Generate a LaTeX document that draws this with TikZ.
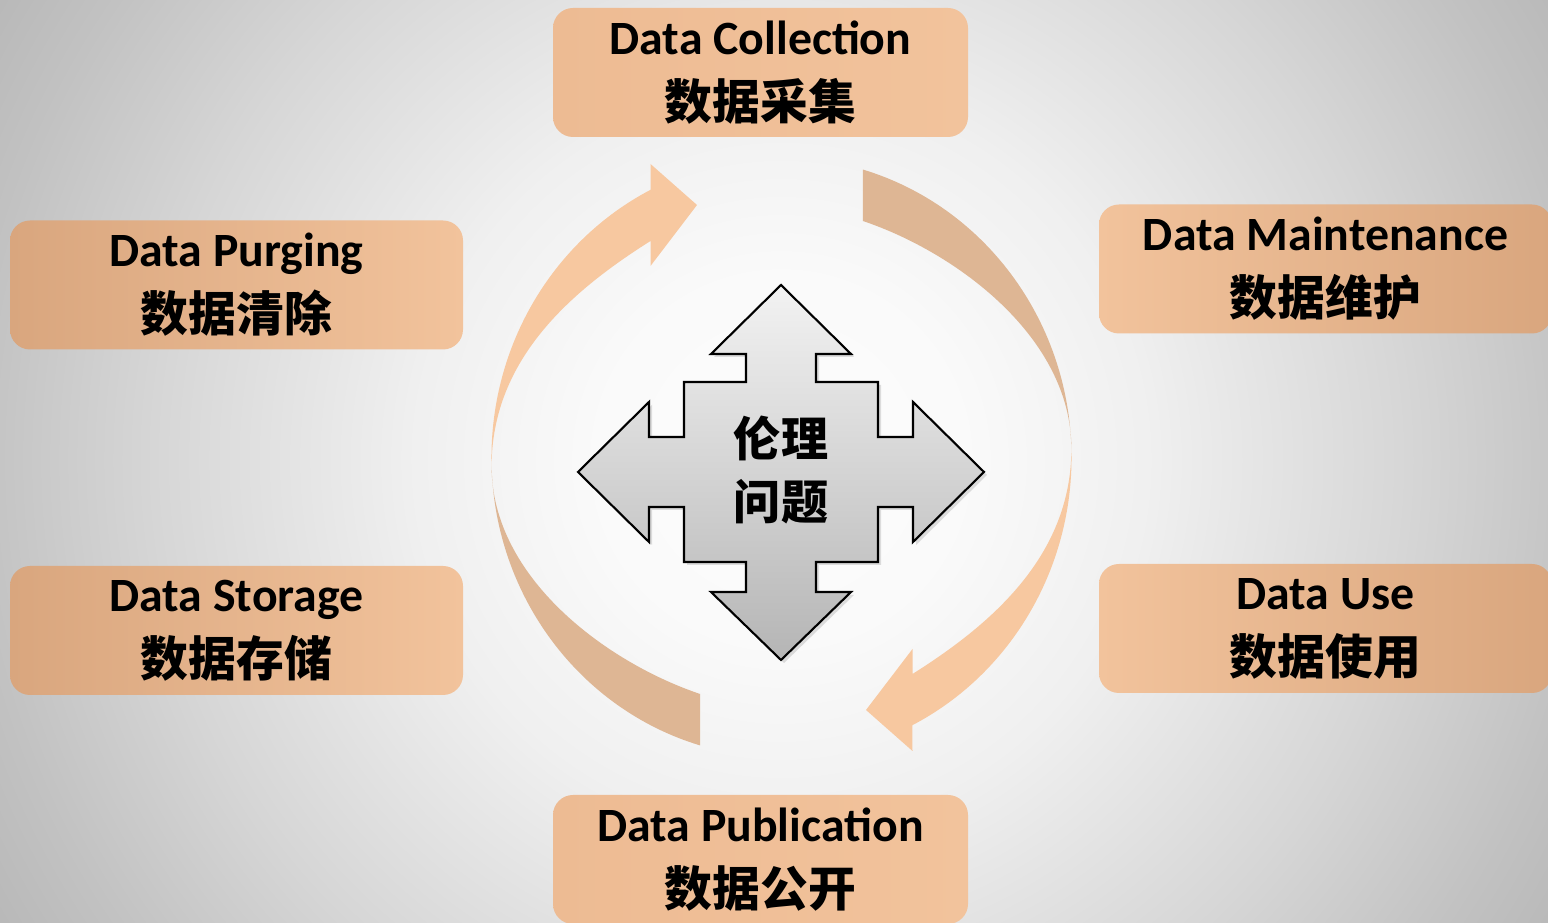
\documentclass[tikz,border=0pt]{standalone}
\usepackage{fontspec}
\setmainfont{Carlito}
\newfontfamily\cjk{Noto Sans CJK SC}
\usetikzlibrary{calc, shadows}

\definecolor{peach}{HTML}{F7C8A0}
\definecolor{arrowtan}{HTML}{DEB694}
\definecolor{boxlight}{HTML}{F2C39C}
\definecolor{boxdark}{HTML}{D9A67E}
\definecolor{boxmid}{HTML}{EDBB93}
\pgfdeclareradialshading{bgglow}{\pgfpoint{0bp}{0bp}}{color(0bp)=(white!99!black); color(5bp)=(white!98!black); color(10bp)=(white!94!black); color(17bp)=(white!84!black); color(22bp)=(white!76!black); color(25bp)=(white!72!black); color(50bp)=(white!72!black)}

\tikzset{
  stage/.style={rounded corners=2mm, minimum height=12.9mm, inner sep=0pt, align=center,
    font=\fontsize{13.6pt}{18.5pt}\selectfont\bfseries},
  stageright/.style={stage, minimum width=45.3mm, left color=boxlight, right color=boxdark},
  stageleft/.style={stage, minimum width=45.3mm, left color=boxdark, right color=boxlight},
  stagemid/.style={stage, minimum width=41.5mm, left color=boxmid, right color=boxlight},
}

\begin{document}
\begin{tikzpicture}[x=0.1mm, y=0.1mm]
	\useasboundingbox (0,0) rectangle (1548,923);
	\clip (0,0) rectangle (1548,923);
	\shade[shading=bgglow] (781,463) circle (920); %背景
	\coordinate (C) at (781.5,465.5); %円の中心
	% 循環の矢印 (2本, 180度回転)
	\foreach \r in {0,180}{
		\begin{scope}[shift={(C)}, rotate=\r]
			\fill[peach] (-131,216.5) .. controls (-207,168.5) and (-289.9,100) .. (-289.9,-8.9)
				arc[start angle=181.7, end angle=116.8, x radius=290, y radius=300]
				-- (-131,293.5) -- (-84.5,252.5) -- (-131,191.5) -- cycle;
			\fill[arrowtan] (-289.9,-8.9)
				arc[start angle=181.7, end angle=253.7, x radius=290, y radius=300]
				-- (-81.4,-236.5) .. controls (-175,-205) and (-289.9,-120) .. (-289.9,-8.9) -- cycle;
		\end{scope}
	}
	% 中央の四方向矢印
	\begin{scope}[shift={(781,451)}]
		\draw[top color=gray!10, bottom color=gray!58, line width=0.6pt, line join=miter,
			drop shadow={opacity=0.25, shadow xshift=0.3mm, shadow yshift=-0.3mm}]
			(-35,90) -- (-35,118) -- (-70,118) -- (0,187) -- (70,118) -- (35,118) -- (35,90)
			-- (97,90) -- (97,35) -- (132,35) -- (132,70) -- (203,0) -- (132,-70) -- (132,-35) -- (97,-35)
			-- (97,-90) -- (35,-90) -- (35,-120) -- (70,-120) -- (0,-188) -- (-70,-120) -- (-35,-120) -- (-35,-90)
			-- (-97,-90) -- (-97,-35) -- (-132,-35) -- (-132,-70) -- (-203,0) -- (-132,70) -- (-132,35) -- (-97,35)
			-- (-97,90) -- cycle;
	\end{scope}
	\node[font=\fontsize{13.4pt}{18.2pt}\selectfont\bfseries\cjk, align=center] (ethics) at (781,453) {伦理\\问题};
	% 各段階
	\node[stagemid] (collect) at (760.5,850.5) {Data Collection\\{\cjk 数据采集}};
	\node[stageright] (maintain) at (1325.5,654) {Data Maintenance\\{\cjk 数据维护}};
	\node[stageright] (use) at (1325.5,294.5) {Data Use\\{\cjk 数据使用}};
	\node[stagemid] (publish) at (760.5,63.5) {Data Publication\\{\cjk 数据公开}};
	\node[stageleft] (store) at (236.5,292.5) {Data Storage\\{\cjk 数据存储}};
	\node[stageleft] (purge) at (236.5,638) {Data Purging\\{\cjk 数据清除}};
\end{tikzpicture}
\end{document}
